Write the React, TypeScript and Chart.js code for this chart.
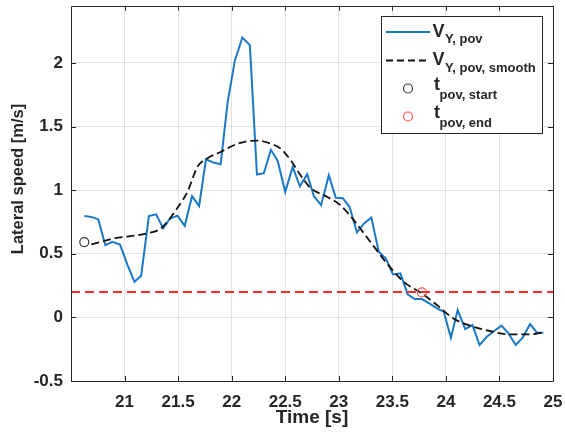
import React, { useEffect, useRef } from 'react';
import { Chart, registerables } from 'chart.js';

Chart.register(...registerables);

// ---- data ----
const blueTime = [
  20.624, 20.69, 20.755, 20.82, 20.885, 20.957, 21.028, 21.093, 21.155, 21.227,
  21.295, 21.36, 21.425, 21.494, 21.562, 21.63, 21.696, 21.76, 21.83, 21.897,
  21.963, 22.03, 22.1, 22.17, 22.236, 22.3, 22.366, 22.43, 22.5, 22.57,
  22.637, 22.705, 22.767, 22.835, 22.907, 22.972, 23.037, 23.1, 23.17, 23.236,
  23.304, 23.373, 23.44, 23.506, 23.575, 23.643, 23.708, 23.776, 23.845, 23.916,
  23.98, 24.047, 24.11, 24.18, 24.248, 24.314, 24.382, 24.453, 24.519, 24.584,
  24.652, 24.717, 24.786, 24.848, 24.91,
];
const blueSpeed = [
  0.798, 0.79, 0.77, 0.568, 0.594, 0.573, 0.411, 0.28, 0.327, 0.796,
  0.81, 0.7, 0.777, 0.8, 0.72, 0.953, 0.874, 1.243, 1.217, 1.204,
  1.694, 2.02, 2.2, 2.14, 1.123, 1.133, 1.317, 1.23, 0.987, 1.183,
  1.031, 1.126, 0.953, 0.882, 1.118, 0.94, 0.937, 0.869, 0.668, 0.738,
  0.785, 0.516, 0.463, 0.338, 0.346, 0.181, 0.144, 0.144, 0.11, 0.071,
  0.045, -0.16, 0.058, -0.092, -0.06, -0.217, -0.152, -0.105, -0.065, -0.126,
  -0.217, -0.16, -0.052, -0.118, -0.12,
];
const smoothTime = [
  20.69, 20.9, 21.21, 21.34, 21.49, 21.587, 21.68, 21.77, 21.897, 22.02,
  22.146, 22.24, 22.363, 22.457, 22.55, 22.643, 22.736, 22.89, 23.016, 23.14,
  23.295, 23.45, 23.606, 23.776, 23.916, 24.07, 24.226, 24.41, 24.6, 24.786, 24.91,
];
const smoothSpeed = [
  0.573, 0.62, 0.66, 0.7, 0.856, 0.987, 1.183, 1.249, 1.3, 1.353,
  1.385, 1.39, 1.366, 1.327, 1.236, 1.118, 1.018, 0.948, 0.882, 0.764,
  0.594, 0.424, 0.28, 0.188, 0.097, -0.008, -0.065, -0.107, -0.134, -0.134, -0.118,
];
const startTime = [20.624];
const startSpeed = [0.592];
const endTime = [23.776];
const endSpeed = [0.196];
const thresholdSpeed = 0.2;
const thresholdTime = [20.5, 25];

const xTicks = [21, 21.5, 22, 22.5, 23, 23.5, 24, 24.5, 25];
const yTicks = [-0.5, 0, 0.5, 1, 1.5, 2];
const xRange = [20.5, 25];
const yRange = [-0.5, 2.45];

const FONT = '"Liberation Sans", Arial, Helvetica, sans-serif';
const AX = '#262626';
const BLUE = '#1a78c4';

const zip = (xs: number[], ys: number[]) => xs.map((x, i) => ({ x, y: ys[i] }));

const decorPlugin = {
  id: 'matlabDecor',
  afterDraw(chart: any) {
    const ctx: CanvasRenderingContext2D = chart.ctx;
    const { left, right, top, bottom } = chart.chartArea;
    const xs = chart.scales.x;
    const ys = chart.scales.y;
    ctx.save();
    // box
    ctx.strokeStyle = AX;
    ctx.lineWidth = 1;
    ctx.beginPath();
    ctx.rect(Math.round(left) + 0.5, Math.round(top) + 0.5, Math.round(right - left), Math.round(bottom - top));
    ctx.stroke();
    // inward ticks
    const tl = 5;
    ctx.beginPath();
    xTicks.forEach((v) => {
      const px = Math.round(xs.getPixelForValue(v)) + 0.5;
      ctx.moveTo(px, bottom);
      ctx.lineTo(px, bottom - tl);
      ctx.moveTo(px, top);
      ctx.lineTo(px, top + tl);
    });
    yTicks.forEach((v) => {
      const py = Math.round(ys.getPixelForValue(v)) + 0.5;
      ctx.moveTo(left, py);
      ctx.lineTo(left + tl, py);
      ctx.moveTo(right, py);
      ctx.lineTo(right - tl, py);
    });
    ctx.stroke();

    // axis titles
    ctx.fillStyle = AX;
    ctx.textAlign = 'center';
    ctx.textBaseline = 'middle';
    ctx.font = `bold 19px ${FONT}`;
    ctx.fillText('Time [s]', (left + right) / 2, 418);
    ctx.save();
    ctx.translate(18, 179);
    ctx.rotate(-Math.PI / 2);
    ctx.font = `bold 16.5px ${FONT}`;
    ctx.fillText('Lateral speed [m/s]', 0, 0);
    ctx.restore();

    // legend
    const bx = 381, by = 16, bw = 161, bh = 117;
    ctx.fillStyle = '#ffffff';
    ctx.fillRect(bx, by, bw, bh);
    ctx.strokeStyle = AX;
    ctx.lineWidth = 1;
    ctx.strokeRect(bx + 0.5, by + 0.5, bw, bh);

    // row 1: blue line
    ctx.strokeStyle = BLUE;
    ctx.lineWidth = 2;
    ctx.beginPath();
    ctx.moveTo(386, 32);
    ctx.lineTo(430, 32);
    ctx.stroke();
    // row 2: dashed black
    ctx.strokeStyle = '#111111';
    ctx.setLineDash([7, 4]);
    ctx.beginPath();
    ctx.moveTo(386, 60.5);
    ctx.lineTo(430, 60.5);
    ctx.stroke();
    ctx.setLineDash([]);
    // row 3/4: circles
    ctx.lineWidth = 1.2;
    ctx.strokeStyle = '#333333';
    ctx.beginPath();
    ctx.arc(408, 88.5, 4.5, 0, Math.PI * 2);
    ctx.stroke();
    ctx.strokeStyle = '#ff4d4d';
    ctx.beginPath();
    ctx.arc(408, 116.5, 4.5, 0, Math.PI * 2);
    ctx.stroke();

    ctx.fillStyle = AX;
    ctx.textAlign = 'left';
    ctx.textBaseline = 'alphabetic';
    const entry = (main: string, sub: string, x: number, base: number, subX: number, subBase: number) => {
      ctx.font = `bold 18px ${FONT}`;
      ctx.fillText(main, x, base);
      ctx.font = `bold 13px ${FONT}`;
      ctx.fillText(sub, subX, subBase);
    };
    entry('V', 'Y, pov', 432.5, 36.5, 445, 43);
    entry('V', 'Y, pov, smooth', 432.5, 64.5, 445, 71.5);
    entry('t', 'pov, start', 434, 90, 439.5, 98.5);
    entry('t', 'pov, end', 434, 118, 439.5, 126.5);

    ctx.restore();
  },
};

const zeroPad = (s: any) => {
  s.paddingLeft = 0;
  s.paddingRight = 0;
  s.paddingTop = 0;
  s.paddingBottom = 0;
};

export default function App() {
  const ref = useRef<HTMLCanvasElement | null>(null);
  useEffect(() => {
    if (!ref.current) return;
    const chart = new Chart(ref.current, {
      type: 'line',
      data: {
        datasets: [
          {
            label: 'threshold',
            data: zip(thresholdTime, thresholdTime.map(() => thresholdSpeed)),
            borderColor: '#ff2a2a',
            borderWidth: 2,
            borderDash: [9, 5],
            pointRadius: 0,
            order: 0,
          },
          {
            label: 'end',
            data: zip(endTime, endSpeed),
            showLine: false,
            pointRadius: 4.5,
            pointBorderColor: '#ff4d4d',
            pointBackgroundColor: 'rgba(0,0,0,0)',
            pointBorderWidth: 1.2,
            order: 1,
          },
          {
            label: 'start',
            data: zip(startTime, startSpeed),
            showLine: false,
            pointRadius: 4.5,
            pointBorderColor: '#333333',
            pointBackgroundColor: 'rgba(0,0,0,0)',
            pointBorderWidth: 1.2,
            order: 2,
          },
          {
            label: 'smooth',
            data: zip(smoothTime, smoothSpeed),
            borderColor: '#111111',
            borderWidth: 1.8,
            borderDash: [8, 4],
            pointRadius: 0,
            cubicInterpolationMode: 'monotone',
            order: 3,
          },
          {
            label: 'raw',
            data: zip(blueTime, blueSpeed),
            borderColor: BLUE,
            borderWidth: 2,
            pointRadius: 0,
            tension: 0,
            order: 4,
          },
        ],
      },
      options: {
        responsive: false,
        animation: false,
        events: [],
        layout: { padding: { left: 0, top: 5, right: 12, bottom: 0 } },
        plugins: { legend: { display: false }, tooltip: { enabled: false } },
        scales: {
          x: {
            type: 'linear',
            min: xRange[0],
            max: xRange[1],
            afterBuildTicks: (s: any) => {
              s.ticks = xTicks.map((v) => ({ value: v }));
            },
            afterFit: (s: any) => {
              s.height = 58;
              zeroPad(s);
            },
            ticks: {
              autoSkip: false,
              maxRotation: 0,
              padding: 11,
              color: AX,
              font: { family: FONT, size: 17, weight: 'bold' },
              callback: (v: any) => String(v),
            },
            grid: { color: 'rgba(38,38,38,0.13)', drawTicks: false },
            border: { display: false },
          },
          y: {
            type: 'linear',
            min: yRange[0],
            max: yRange[1],
            afterBuildTicks: (s: any) => {
              s.ticks = yTicks.map((v) => ({ value: v }));
            },
            afterFit: (s: any) => {
              s.width = 71;
              zeroPad(s);
            },
            ticks: {
              autoSkip: false,
              padding: 8,
              color: AX,
              font: { family: FONT, size: 17, weight: 'bold' },
              callback: (v: any) => String(v),
            },
            grid: { color: 'rgba(38,38,38,0.13)', drawTicks: false },
            border: { display: false },
          },
        },
      },
      plugins: [decorPlugin],
    } as any);
    return () => chart.destroy();
  }, []);
  return (
    <div style={{ position: 'absolute', left: 0, top: 0, width: 565, height: 439, background: '#fff' }}>
      <canvas ref={ref} width={565} height={439} style={{ display: 'block' }} />
    </div>
  );
}
